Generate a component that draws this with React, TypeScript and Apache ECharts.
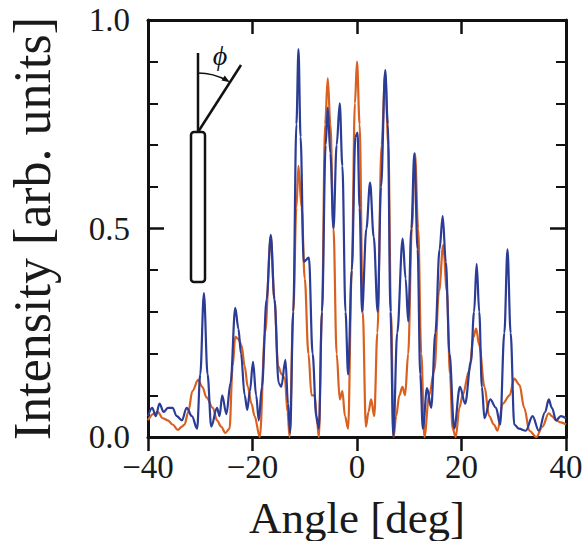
import React, { useEffect, useRef } from "react";
import * as echarts from "echarts";

// Measured angle grid [deg] and intensities [arb. units]
const blueAngles = [-40, -39.2, -38.5, -37.8, -37, -36.2, -35.3, -34.5, -33.5, -32.6, -31.6, -30.6, -30.0, -29.3, -28.6, -27.9, -26.8, -26.3, -25.8, -25.0, -24.2, -23.3, -22.7, -22.2, -21.5, -21, -20.5, -19.9, -19.3, -18.8, -18.2, -17.3, -16.5, -15.8, -15.0, -14.5, -13.7, -13.2, -12.8, -12.2, -11.6, -11.2, -10.8, -10.2, -9.2, -8.5, -7.8, -7.3, -6.7, -6.0, -5.6, -5.1, -4.5, -3.9, -3.3, -2.8, -2.2, -1.7, -1.0, -0.3, 0.1, 0.5, 0.96, 1.8, 2.5, 3.2, 3.96, 4.6, 5.4, 5.9, 6.4, 6.95, 7.7, 8.74, 9.3, 9.8, 10.4, 10.97, 11.6, 12.1, 12.6, 13.4, 14.2, 15.0, 15.8, 16.4, 17.0, 17.7, 18.6, 19.7, 20.7, 21.8, 22.4, 22.9, 23.4, 23.9, 24.4, 25.5, 26.6, 27.4, 28.2, 28.8, 29.4, 30.1, 31, 32.3, 33.6, 34.8, 36, 36.7, 37.3, 38.1, 39, 40];
const blueValues = [0.05, 0.07, 0.05, 0.08, 0.06, 0.07, 0.07, 0.05, 0.04, 0.07, 0.05, 0.02, 0.15, 0.345, 0.15, 0.025, 0.07, 0.05, 0.1, 0.055, 0.13, 0.31, 0.26, 0.2, 0.1, 0.065, 0.11, 0.18, 0.1, 0.04, 0.12, 0.33, 0.485, 0.33, 0.13, 0.12, 0.185, 0.08, 0.01, 0.3, 0.75, 0.93, 0.72, 0.42, 0.43, 0.2, 0.05, 0.02, 0.3, 0.7, 0.79, 0.68, 0.5, 0.7, 0.8, 0.65, 0.3, 0.15, 0.4, 0.72, 0.73, 0.55, 0.3, 0.5, 0.61, 0.48, 0.3, 0.6, 0.88, 0.75, 0.3, 0.0, 0.25, 0.476, 0.38, 0.277, 0.5, 0.68, 0.45, 0.15, 0.02, 0.117, 0.07, 0.25, 0.45, 0.53, 0.42, 0.2, 0.02, 0.12, 0.08, 0.18, 0.3, 0.415, 0.3, 0.12, 0.045, 0.09, 0.07, 0.03, 0.25, 0.45, 0.25, 0.03, 0.02, 0.015, 0.05, 0.015, 0.06, 0.09, 0.07, 0.04, 0.05, 0.045];

const orangeAngles = [-40, -39, -38.1, -37.2, -36.2, -35.3, -34.3, -33.5, -33, -32.3, -31.5, -30.4, -29.6, -28.8, -27.6, -26.8, -26, -25.2, -24.4, -23.8, -23.3, -22.7, -22.1, -21.5, -20.9, -20.2, -19.6, -18.6, -17.6, -16.5, -15.8, -15.1, -14.4, -13.8, -13.3, -12.9, -12.2, -11.6, -11.2, -10.6, -10, -9.3, -8.7, -8.1, -7.6, -7.3, -6.7, -6.1, -5.6, -5.1, -4.5, -3.9, -3.3, -2.8, -2.3, -1.7, -1.0, -0.4, 0.0, 0.5, 1.1, 1.7, 2.2, 2.7, 3.3, 3.9, 4.7, 5.4, 6.0, 6.5, 7.0, 7.5, 8.1, 8.7, 9.2, 9.8, 10.5, 11.1, 11.7, 12.3, 12.9, 13.8, 14.8, 15.7, 16.5, 17.2, 17.8, 18.3, 18.9, 19.6, 20.2, 21.5, 22.3, 22.8, 23.4, 24.4, 25.3, 26.2, 26.9, 27.9, 29.2, 30.1, 31.1, 32, 33, 34.3, 35.5, 36.7, 37.3, 38.1, 39, 40];
const orangeValues = [0.04, 0.055, 0.06, 0.045, 0.04, 0.03, 0.017, 0.025, 0.03, 0.06, 0.11, 0.137, 0.12, 0.095, 0.07, 0.04, 0.025, 0.01, 0.02, 0.17, 0.24, 0.235, 0.22, 0.17, 0.12, 0.08, 0.05, 0.0, 0.25, 0.48, 0.33, 0.17, 0.15, 0.14, 0.06, 0.0, 0.3, 0.55, 0.65, 0.55, 0.38, 0.2, 0.1, 0.1, 0.03, 0.0, 0.3, 0.75, 0.86, 0.75, 0.5, 0.2, 0.09, 0.11, 0.05, 0.02, 0.4, 0.8, 0.9, 0.75, 0.3, 0.025, 0.06, 0.09, 0.05, 0.25, 0.7, 0.87, 0.7, 0.3, 0.0, 0.05, 0.1, 0.12, 0.1, 0.2, 0.5, 0.68, 0.5, 0.2, 0.0, 0.1, 0.16, 0.35, 0.46, 0.35, 0.15, 0.02, 0.0, 0.07, 0.1, 0.16, 0.24, 0.26, 0.22, 0.12, 0.05, 0.03, 0.015, 0.08, 0.1, 0.14, 0.125, 0.07, 0.015, 0.0, 0.025, 0.057, 0.05, 0.04, 0.035, 0.03];

const xTicks = [-40, -20, 0, 20, 40];
const yTicks = [0, 0.5, 1.0];

const SERIF = "'Liberation Serif', 'DejaVu Serif', 'Times New Roman', serif";
const BLUE = "#2b3c96";
const ORANGE = "#d9601e";

function pairs(xs: number[], ys: number[]) {
  return xs.map((x, i) => [x, ys[i]]);
}

export default function App() {
  const ref = useRef<HTMLDivElement>(null);
  useEffect(() => {
    document.body.style.margin = "0";
    if (!ref.current) return;
    const chart = echarts.init(ref.current, undefined, { renderer: "svg" });

    const cx = 198, cy = 132, r = 59;
    const endA = Math.atan2(65 - 132, 241 - 198);
    const tipX = cx + r * Math.cos(endA), tipY = cy + r * Math.sin(endA);
    const dx = -Math.sin(endA), dy = Math.cos(endA);
    const bx = tipX - 8 * dx, by = tipY - 8 * dy;

    chart.setOption({
      animation: false,
      grid: { left: 148, right: 18, top: 20, bottom: 104, outerBoundsMode: "none", containLabel: false },
      xAxis: [
        {
          type: "value",
          min: xTicks[0],
          max: xTicks[xTicks.length - 1],
          interval: 20,
          position: "bottom",
          axisLine: { show: true, onZero: false, lineStyle: { color: "#111", width: 3 } },
          axisTick: { show: true, inside: false, length: 14, lineStyle: { color: "#111", width: 2.5 } },
          splitLine: { show: false },
          axisLabel: {
            margin: 13,
            fontFamily: SERIF,
            fontSize: 33,
            color: "#1a1a1a",
            formatter: (v: number) => (v < 0 ? "\u2212" + Math.abs(v) : String(v)),
          },
          name: "Angle [deg]",
          nameLocation: "middle",
          nameGap: 58,
          nameTextStyle: { fontFamily: SERIF, fontSize: 45, color: "#1a1a1a" },
        },
        {
          type: "value",
          min: xTicks[0],
          max: xTicks[xTicks.length - 1],
          interval: 20,
          position: "top",
          axisLine: { show: true, onZero: false, lineStyle: { color: "#111", width: 3 } },
          axisTick: { show: true, inside: true, length: 14, lineStyle: { color: "#111", width: 2.5 } },
          splitLine: { show: false },
          axisLabel: { show: false },
        },
      ],
      yAxis: [
        {
          type: "value",
          min: yTicks[0],
          max: yTicks[yTicks.length - 1],
          interval: 0.5,
          position: "left",
          axisLine: { show: true, onZero: false, lineStyle: { color: "#111", width: 3 } },
          axisTick: { show: true, inside: true, length: 16, lineStyle: { color: "#111", width: 2.5 } },
          minorTick: { show: true, splitNumber: 5, length: 10, lineStyle: { color: "#111", width: 2 } },
          splitLine: { show: false },
          axisLabel: {
            margin: 18,
            fontFamily: SERIF,
            fontSize: 33,
            color: "#1a1a1a",
            formatter: (v: number) => v.toFixed(1),
          },
          name: "Intensity [arb. units]",
          nameLocation: "middle",
          nameGap: 90,
          nameRotate: 90,
          nameTextStyle: { fontFamily: SERIF, fontSize: 52, color: "#1a1a1a" },
        },
        {
          type: "value",
          min: yTicks[0],
          max: yTicks[yTicks.length - 1],
          interval: 0.5,
          position: "right",
          axisLine: { show: true, onZero: false, lineStyle: { color: "#111", width: 3 } },
          axisTick: { show: true, inside: true, length: 16, lineStyle: { color: "#111", width: 2.5 } },
          minorTick: { show: true, splitNumber: 5, length: 10, lineStyle: { color: "#111", width: 2 } },
          splitLine: { show: false },
          axisLabel: { show: false },
        },
      ],
      series: [
        {
          name: "orange",
          type: "line",
          data: pairs(orangeAngles, orangeValues),
          showSymbol: false,
          smooth: 0.35,
          smoothMonotone: "x",
          lineStyle: { color: ORANGE, width: 2.2 },
          z: 2,
        },
        {
          name: "blue",
          type: "line",
          data: pairs(blueAngles, blueValues),
          showSymbol: false,
          smooth: 0.35,
          smoothMonotone: "x",
          lineStyle: { color: BLUE, width: 2.2 },
          z: 3,
        },
      ],
      graphic: [
        {
          type: "rect",
          shape: { x: 191, y: 132, width: 14, height: 150, r: 3 },
          style: { fill: "#fff", stroke: "#111", lineWidth: 2.5 },
          z: 10,
        },
        {
          type: "line",
          shape: { x1: cx, y1: cy, x2: cx, y2: 53 },
          style: { stroke: "#111", lineWidth: 2.5 },
          z: 10,
        },
        {
          type: "line",
          shape: { x1: cx, y1: cy, x2: 241, y2: 65 },
          style: { stroke: "#111", lineWidth: 2.5 },
          z: 10,
        },
        {
          type: "arc",
          shape: { cx, cy, r, startAngle: -Math.PI / 2, endAngle: endA - 0.06, clockwise: true },
          style: { stroke: "#111", lineWidth: 1.5, fill: "none" },
          z: 10,
        },
        {
          type: "polygon",
          shape: {
            points: [
              [tipX, tipY],
              [bx - 3 * dy, by + 3 * dx],
              [bx + 3 * dy, by - 3 * dx],
            ],
          },
          style: { fill: "#111" },
          z: 10,
        },
        {
          type: "text",
          x: 220,
          y: 55,
          style: {
            text: "\u03D5",
            fontFamily: SERIF,
            fontStyle: "italic",
            fontSize: 28,
            fill: "#111",
            align: "center",
            verticalAlign: "middle",
          },
          z: 10,
        },
      ],
    });
    return () => chart.dispose();
  }, []);
  return (
    <div
      ref={ref}
      style={{ position: "fixed", left: 0, top: 0, width: 584, height: 541, background: "#fff" }}
    />
  );
}
